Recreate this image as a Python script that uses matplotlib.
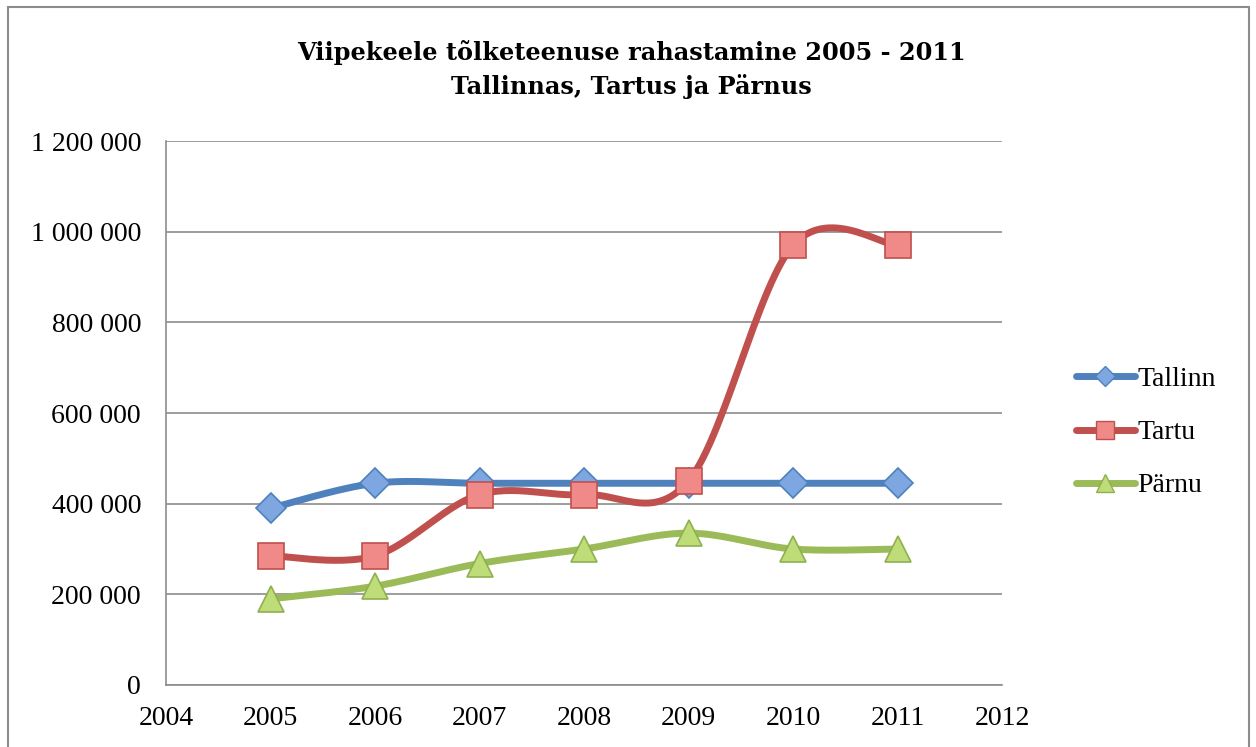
import matplotlib.pyplot as plt
import numpy as np
from matplotlib.patches import Rectangle
from matplotlib.ticker import FuncFormatter

years = [2005, 2006, 2007, 2008, 2009, 2010, 2011]
tallinn = [390000, 445000, 445000, 445000, 445000, 445000, 445000]
tartu = [285000, 285000, 420000, 420000, 450000, 970000, 970000]
parnu = [190000, 218000, 268000, 300000, 335000, 300000, 300000]
names = ['Tallinn', 'Tartu', 'Pärnu']

plt.rcParams['font.family'] = ['Liberation Serif', 'DejaVu Serif']


def smooth(x, y, n=30):
    # Excel-style smoothed line: Bezier segments with Catmull-Rom control points
    x = np.asarray(x, float)
    y = np.asarray(y, float)
    px, py = [], []
    t = np.linspace(0, 1, n)
    for i in range(len(x) - 1):
        i0 = max(i - 1, 0)
        i3 = min(i + 2, len(x) - 1)
        p0 = np.array([x[i], y[i]])
        p3 = np.array([x[i + 1], y[i + 1]])
        p1 = p0 + (p3 - np.array([x[i0], y[i0]])) / 6
        p2 = p3 - (np.array([x[i3], y[i3]]) - p0) / 6
        pts = ((1 - t) ** 3)[:, None] * p0 + (3 * (1 - t) ** 2 * t)[:, None] * p1 \
            + (3 * (1 - t) * t ** 2)[:, None] * p2 + (t ** 3)[:, None] * p3
        px.extend(pts[:, 0])
        py.extend(pts[:, 1])
    return px, py


fig = plt.figure(figsize=(12.56, 7.47), dpi=100)
fig.patches.append(Rectangle((0.0065, -0.01), 0.988, 1.0, transform=fig.transFigure,
                             fill=False, edgecolor='#8c8c8c', linewidth=1.5))
ax = fig.add_axes([0.1322, 0.083, 0.6656, 0.7282])

series = [
    (tallinn, '#4F81BD', '#7EA6E0', '#4F81BD', 'D', 15),
    (tartu, '#C0504D', '#F08A88', '#C0504D', 's', 19),
    (parnu, '#9BBB59', '#BEDC78', '#8FB04F', '^', 19),
]
for (vals, lc, fc, ec, mk, ms), name in zip(series, names):
    sx, sy = smooth(years, vals)
    ax.plot(sx, sy, color=lc, linewidth=5, solid_capstyle='round', zorder=3)
    ax.plot(years, vals, linestyle='none', marker=mk, markersize=ms,
            markerfacecolor=fc, markeredgecolor=ec, markeredgewidth=1.2, zorder=4)
    ax.plot([], [], color=lc, linewidth=5, solid_capstyle='round', marker=mk,
            markersize=ms * 0.65, markerfacecolor=fc, markeredgecolor=ec, label=name)

ax.set_xlim(2004, 2012)
ax.set_ylim(0, 1200000)
ax.set_xticks(range(2004, 2013))
ax.set_yticks(range(0, 1200001, 200000))
ax.yaxis.set_major_formatter(FuncFormatter(lambda v, p: f'{int(v):,}'.replace(',', ' ')))
ax.tick_params(labelsize=20, length=0)
ax.tick_params(axis='y', pad=18)
ax.tick_params(axis='x', pad=15)
ax.yaxis.grid(True, color='#8c8c8c', linewidth=1.2)
ax.set_axisbelow(True)
for s in ['top', 'right']:
    ax.spines[s].set_visible(False)
for s in ['left', 'bottom']:
    ax.spines[s].set_color('#8c8c8c')
    ax.spines[s].set_linewidth(1.2)

fig.text(0.503, 0.907, 'Viipekeele tõlketeenuse rahastamine 2005 - 2011\nTallinnas, Tartus ja Pärnus',
         ha='center', va='center', fontsize=17.3, fontweight='bold', linespacing=1.45,
         family=['DejaVu Serif'])

leg = fig.legend(loc='center left', bbox_to_anchor=(0.837, 0.421), frameon=False,
                 fontsize=20, handlelength=2.1, handletextpad=0.1, labelspacing=1.0)

fig.savefig('out.png', dpi=100)
